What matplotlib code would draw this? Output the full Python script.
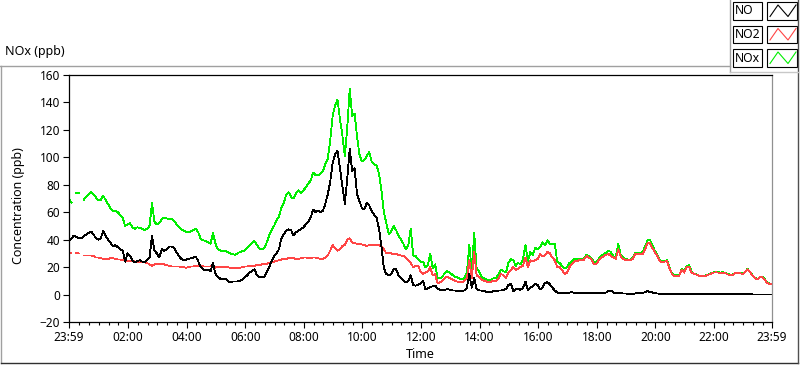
import numpy as np
import matplotlib.pyplot as plt
from matplotlib.patches import Rectangle

nan = float("nan")

# sample times in minutes from midnight, 5 min steps, 23:59 -> 23:59
minutes = np.arange(289) * 5 - 1

# NO (ppb), one row per hour
no = [
    39, 41, 43, 42, 41, 41, 42.5, 43.5, 45, 46, 44, 41,
    40, 41, 46.5, 43, 40, 38, 35, 36, 34.5, 33, 32, 24,
    30, 28, 25, 23.5, 24.5, 25, 24, 23.5, 25, 27, 43, 32,
    30, 27, 33, 32, 33, 35, 35, 34, 31, 28, 26, 25,
    25.5, 26, 26.5, 27, 27.5, 24, 20, 18.5, 17.5, 18, 17, 23,
    15, 13, 11.5, 11, 11.5, 10, 9, 9.5, 9.5, 9.5, 10, 11,
    12.5, 14, 16, 17, 18.5, 14, 12.5, 12.5, 13, 16, 20, 24.5,
    28, 30, 33, 41, 44, 46.5, 47.5, 47, 43, 45.5, 46.5, 47.5,
    49, 51, 53, 56, 62, 60, 61, 60, 61, 66, 73, 82,
    96, 102, 105, 92, 79, 66, 85, 106, 90, 92, 73, 68,
    63, 62, 67, 65, 61, 58, 56, 48, 35, 19, 15, 14,
    15, 18.5, 18.5, 14, 12, 10, 9, 10, 14, 7, 6.5, 7,
    8, 10, 4, 4.5, 5.5, 6, 6.5, 4.5, 3.5, 3, 3.5, 4,
    3.5, 3, 3, 2.5, 2.5, 2.5, 3, 5, 15, 5, 12, 4,
    3, 3, 2.5, 2, 1.7, 2, 2.5, 2.5, 3, 3, 3.5, 4,
    7, 8, 2.5, 4, 4, 3.5, 5, 9.5, 3, 5, 6, 8,
    7, 4, 5, 8.5, 9, 7.5, 5, 3, 1.5, 1, 1, 1,
    1, 1.5, 1.7, 1.2, 1, 1, 1, 1, 1, 1, 1, 1,
    1, 1, 1, 1.2, 1.5, 2.5, 3, 1.5, 1.2, 1, 1, 0.8,
    0.8, 0.6, 0.5, 0.6, 0.8, 1, 1, 1.2, 1.8, 2.4, 2, 1.5,
    1, 0.8, 0.6, 0.5, 0.5, 0.5, 0.5, 0.5, 0.4, 0.5, 0.4, 0.5,
    0.6, 0.5, 0.4, 0.8, 0.4, 0.3, 0.3, 0.3, 0.3, 0.3, 0.3, 0.2,
    0.2, 0.2, 0.2, 0.2, 0.2, 0.2, 0.2, 0.2, 0.2, 0.2, 0.2, 0.2,
    0.2, 0.2, 0.2, 0.2, 0.1, 0.1, 0.1, 0.1, 0.1, 0.1, 0.1, 0.1,
    0.1,
]

# NO2 (ppb)
no2 = [
    30, 30.5, nan, 30.5, 30, nan, 28.5, 28.5, 28.5, 28.5, 28, 27,
    27, 26.5, 26, 26, 26, 26.5, 26.5, 26, 25.5, 25.5, 25, 25,
    24.5, 24.5, 24.5, 24, 24, 24, 23.5, 23.5, 23, 22, 21, 22,
    22, 22, 22, 22, 21.5, 21, 20.5, 20.5, 20.5, 20.5, 20, 20,
    19.5, 20, 20.5, 20.5, 21, 21, 21, 20.5, 20.5, 20.5, 20.5, 22,
    19.5, 20.5, 20, 20, 20, 20, 19.5, 19.5, 19.5, 19.5, 19.5, 20,
    20.5, 20.5, 21, 21, 21, 21.5, 21.5, 22, 22, 22.5, 23, 23.5,
    24, 24.5, 25, 25.5, 26, 26, 26.5, 26.5, 26.5, 26, 26, 26.5,
    27, 27, 26.5, 26.5, 27, 27, 26.5, 26, 26, 27, 28.5, 32,
    36, 34, 32, 33, 35.5, 36, 40, 41, 38, 37.5, 37, 37,
    36.5, 36, 35.5, 36, 36.5, 36, 36, 36, 35, 33, 30, 30,
    30, 29.5, 29.5, 29, 28.5, 28, 27, 25, 23, 20, 21, 21,
    17, 15, 16, 17, 20, 14, 15, 8, 9, 10, 12, 13,
    12, 11, 10, 9.5, 9, 9, 10, 12, 25, 12, 31, 14,
    13, 11, 10, 9.5, 9, 9.5, 10, 10, 12, 15, 14, 12,
    16, 18, 20, 18, 19, 20, 21, 27, 20, 25, 24, 25,
    26, 29.5, 28, 28.5, 31, 30, 27, 25, 20, 20, 18, 15,
    16, 20, 22, 24, 24.5, 25, 25, 25.5, 28, 27, 25.5, 22,
    22, 25, 26.5, 28, 29, 29.5, 28, 27, 26, 33, 28, 26,
    25, 25, 24.8, 26, 29.5, 29.5, 29.5, 29.5, 33, 37.5, 37.5, 34,
    31, 28, 24.5, 23.5, 24, 24.5, 19, 15, 13.6, 13.4, 13.8, 18,
    16, 20, 20.5, 16, 15, 14.6, 13.6, 13.4, 13.4, 13.8, 14.5, 15.2,
    16, 16.2, 16, 15.8, 15.8, 15.5, 14.6, 14, 14.5, 15.8, 15.8, 15.5,
    15, 16.5, 18.5, 16.2, 14, 12, 11, 12.5, 12.8, 11, 8.5, 7.8,
    7.3,
]

# NOx (ppb)
nox = [
    70, 67, nan, 74, 74, nan, 69, 71, 73, 74.5, 73, 71,
    68.5, 69, 72, 69, 66, 63, 61, 61, 60, 58, 56, 50,
    51, 52, 49, 48, 49, 48.5, 48, 47, 48, 50, 67, 53,
    51, 52, 55, 56, 55.5, 55, 55, 54, 51.5, 49, 47.5, 46.5,
    45.5, 45.5, 46, 47, 48, 45, 40.5, 39.5, 39, 38, 37, 45,
    37, 33, 32, 32, 32, 31, 30, 29.5, 29, 30, 31, 31.5,
    32, 34, 36, 37.5, 39, 36, 33.5, 33, 34, 38, 43, 47,
    50, 54, 57, 63, 67, 73, 74.5, 71, 70, 74, 76, 74,
    76, 78, 81, 83, 89, 87, 87, 88, 90, 95, 99, 112,
    130, 138, 142, 128, 116, 101, 122, 150, 130, 132, 115, 102,
    97, 98, 101, 104, 97, 95, 94, 88, 76, 60, 52, 44,
    46, 50, 47, 43, 40, 37, 33, 36, 48, 28.5, 28, 26,
    24, 24, 20, 21.5, 30, 19, 22, 12, 12, 13, 16, 17,
    16, 14.5, 13, 12.5, 11.5, 11, 12.5, 16, 36, 17, 45, 19,
    17, 13, 12, 11, 10.5, 11, 12, 12, 15, 18, 17, 16,
    23, 26, 25, 21, 23, 22, 26, 36, 24, 31, 29, 34,
    33, 34.5, 38, 36, 39.5, 37, 37, 37, 24, 23, 21, 19,
    20, 23, 24, 26, 26, 26, 26, 26.5, 29, 28, 26.5, 24,
    23.5, 26, 28, 29.5, 30.5, 32, 31, 28, 27, 37, 29, 27,
    26, 25.5, 25.3, 27, 30.5, 30.5, 30.5, 31, 35, 39.5, 40, 36,
    32, 29, 25, 24, 24.5, 25, 19.5, 15.5, 14, 14, 14.3, 18.5,
    16.6, 20.5, 21.5, 17, 15.3, 14.9, 13.9, 13.6, 13.6, 14, 14.7, 15.4,
    16.2, 16.8, 16.2, 16, 16.3, 15.7, 14.8, 14.5, 14.7, 16, 16, 15.7,
    15.2, 16.7, 18.7, 16.4, 14.2, 12.2, 11.2, 12.7, 13, 11.2, 8.7, 8,
    7.5,
]

series = [("NOx", nox, "#00ee00"), ("NO2", no2, "#ff4545"), ("NO", no, "#000000")]
legend_order = [("NO", "#000000"), ("NO2", "#ff4545"), ("NOx", "#00ee00")]

tick_pos = [-1, 120, 240, 360, 480, 600, 720, 840, 960, 1080, 1200, 1320, 1439]
tick_labels = ["23:59", "02:00", "04:00", "06:00", "08:00", "10:00", "12:00",
               "14:00", "16:00", "18:00", "20:00", "22:00", "23:59"]
minor_pos = [m for m in range(20, 1440, 20) if m % 120 != 0]
y_ticks = list(range(-20, 161, 20))

plt.rcParams['font.family'] = ['Noto Sans', 'DejaVu Sans']

fig = plt.figure(figsize=(8, 3.65), dpi=100)

# decoration layer in pixel coordinates
ov = fig.add_axes([0, 0, 1, 1], zorder=0)
ov.set_xlim(0, 800)
ov.set_ylim(365, 0)
ov.axis("off")
ov.plot([0, 730], [65.5, 65.5], color="#a0a0a0", lw=1)
ov.plot([1, 1], [65.5, 363], color="#a0a0a0", lw=1)
ov.plot([1, 798], [363, 363], color="#303030", lw=1)
ov.plot([798, 798], [0, 363], color="#505050", lw=1)
ov.plot([730, 730], [0, 72], color="#a0a0a0", lw=1)
ov.plot([730, 798], [72, 72], color="#c8c8c8", lw=1)

for i, (name, col) in enumerate(legend_order):
    top = 2 + i * 23.5
    ov.add_patch(Rectangle((733, top), 29, 17.5, facecolor="white",
                           edgecolor="black", lw=0.8))
    ov.text(735, top + 9, name, fontsize=8.8, va="center", ha="left")
    ov.add_patch(Rectangle((767, top), 30, 17.5, facecolor="white",
                           edgecolor="black", lw=0.8))
    ov.plot([770, 778, 788, 796], [top + 14.5, top + 3, top + 14.5, top + 3],
            color=col, lw=0.8)

fig.text(5 / 800, 1 - 52 / 365, "NOx (ppb)", fontsize=9, va="center", ha="left")

ax = fig.add_axes([69 / 800, 43 / 365, 703 / 800, 247 / 365], zorder=1)
for name, vals, col in series:
    ax.plot(minutes, vals, color=col, lw=0.6, antialiased=False)

ax.set_xlim(-1, 1439)
ax.set_ylim(-20, 160)
ax.set_xticks(tick_pos)
ax.set_xticklabels(tick_labels)
ax.set_xticks(minor_pos, minor=True)
ax.set_yticks(y_ticks)
ax.tick_params(axis="both", which="major", direction="out", length=4.5,
               width=0.8, labelsize=8.5, pad=2)
ax.tick_params(axis="x", which="minor", direction="out", length=2.5, width=0.8)

for side in ["left", "bottom", "top"]:
    ax.spines[side].set_color("black")
    ax.spines[side].set_linewidth(0.9)
ax.spines["right"].set_color("#909090")
ax.spines["right"].set_linewidth(0.9)

ax.set_xlabel("Time", fontsize=9)
ax.xaxis.set_label_coords(0.5, -0.105)
ax.set_ylabel("Concentration (ppb)", fontsize=9)
ax.yaxis.set_label_coords(-0.0626, 0.47)

fig.savefig("out.png", dpi=100)
